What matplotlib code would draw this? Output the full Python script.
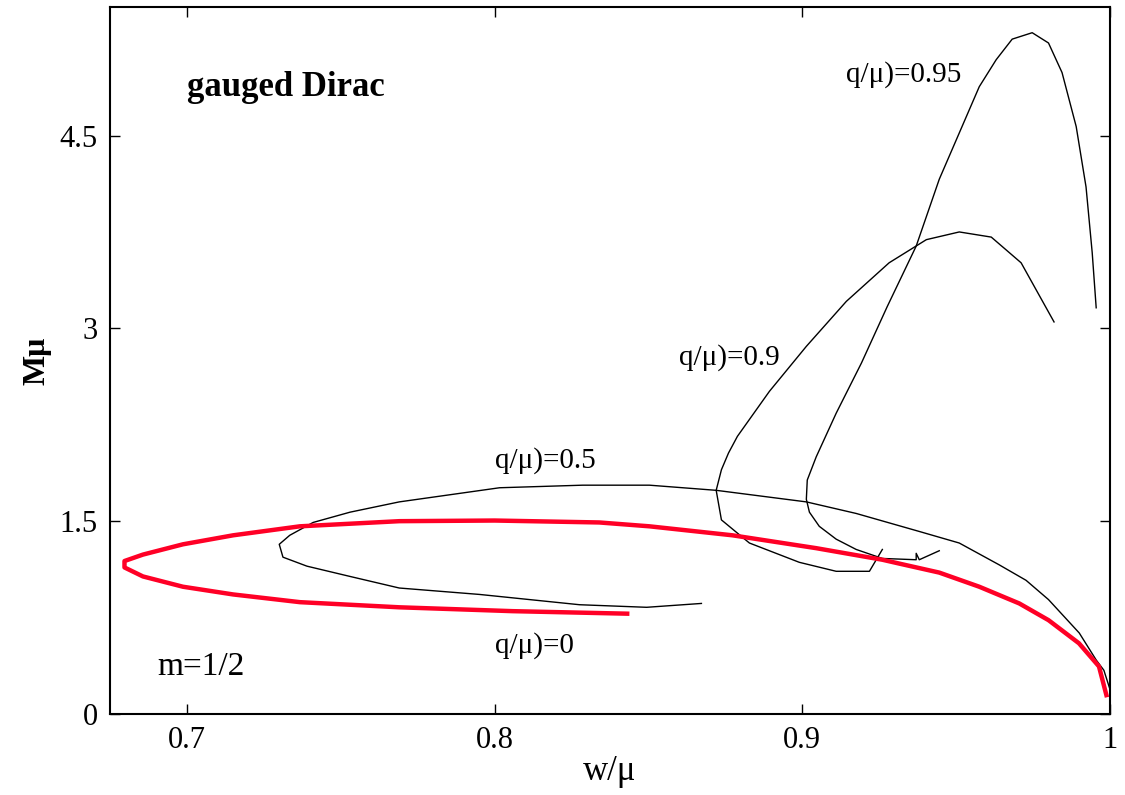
import matplotlib
matplotlib.use("Agg")
import matplotlib.pyplot as plt

plt.rcParams['font.family'] = ['Liberation Serif', 'DejaVu Serif']

# q/mu = 0 (red)
q0_w = [0.999, 0.9964, 0.9899, 0.980, 0.9705, 0.9575, 0.9445, 0.9315, 0.926, 0.9045,
        0.8773, 0.8503, 0.834, 0.80, 0.769, 0.7367, 0.715, 0.6987, 0.6857, 0.6797,
        0.6797, 0.6857, 0.6987, 0.715, 0.7367, 0.769, 0.8058, 0.8438]
q0_M = [0.13, 0.37, 0.55, 0.73, 0.86, 0.99, 1.10, 1.17, 1.20, 1.29,
        1.39, 1.46, 1.49, 1.505, 1.50, 1.46, 1.39, 1.32, 1.24, 1.19,
        1.14, 1.07, 0.99, 0.93, 0.87, 0.83, 0.80, 0.78]

# q/mu = 0.5
q05_w = [1.0, 0.998, 0.9955, 0.99, 0.980, 0.9727, 0.964, 0.951, 0.938, 0.9175,
         0.9013, 0.872, 0.8503, 0.8286, 0.8016, 0.769, 0.753, 0.741, 0.7334, 0.730,
         0.7312, 0.739, 0.753, 0.769, 0.7951, 0.8276, 0.8494, 0.8672]
q05_M = [0.19, 0.34, 0.42, 0.63, 0.89, 1.04, 1.16, 1.33, 1.42, 1.56,
         1.65, 1.74, 1.78, 1.78, 1.76, 1.65, 1.57, 1.49, 1.39, 1.32,
         1.22, 1.15, 1.07, 0.98, 0.93, 0.85, 0.83, 0.86]

# q/mu = 0.9
q09_w = [0.9818, 0.9711, 0.9614, 0.951, 0.9403, 0.9282, 0.9143, 0.9013, 0.8893, 0.8789,
         0.8760, 0.8737, 0.872, 0.8737, 0.8828, 0.899, 0.911, 0.9218, 0.926]
q09_M = [3.05, 3.51, 3.71, 3.75, 3.69, 3.51, 3.21, 2.86, 2.51, 2.16,
         2.03, 1.90, 1.74, 1.51, 1.33, 1.18, 1.11, 1.11, 1.28]

# q/mu = 0.95
q095_w = [0.9955, 0.9942, 0.9922, 0.989, 0.9844, 0.980, 0.9747, 0.9682, 0.963, 0.9575,
          0.951, 0.9445, 0.937, 0.9276, 0.9192, 0.911, 0.9045, 0.9016, 0.9013, 0.9023,
          0.9055, 0.911, 0.9175, 0.926, 0.937, 0.937, 0.938, 0.9445]
q095_M = [3.16, 3.59, 4.10, 4.57, 4.99, 5.22, 5.30, 5.25, 5.09, 4.88,
          4.52, 4.16, 3.64, 3.17, 2.73, 2.34, 2.00, 1.82, 1.67, 1.57,
          1.46, 1.36, 1.28, 1.21, 1.20, 1.25, 1.20, 1.27]

fig = plt.figure(figsize=(11.25, 7.95), dpi=100)
ax = fig.add_axes([0.0978, 0.1019, 0.8889, 0.8893])

ax.plot(q05_w, q05_M, color='black', lw=1.0)
ax.plot(q09_w, q09_M, color='black', lw=1.0)
ax.plot(q095_w, q095_M, color='black', lw=1.0)
ax.plot(q0_w, q0_M, color='#ff0026', lw=3.2, solid_capstyle='butt')

ax.set_xlim(0.675, 1.0)
ax.set_ylim(0, 5.5)
ax.set_xticks([0.7, 0.8, 0.9, 1.0])
ax.set_xticklabels(['0.7', '0.8', '0.9', '1'])
ax.set_yticks([0, 1.5, 3, 4.5])
ax.set_yticklabels(['0', '1.5', '3', '4.5'])
ax.tick_params(direction='in', length=7, width=1.0, labelsize=22, pad=9,
               top=True, right=True)
for s in ax.spines.values():
    s.set_linewidth(1.5)

ax.set_xlabel('w/μ', fontsize=25, labelpad=0)
ax.set_ylabel('Mμ', fontsize=23, fontweight='bold', labelpad=6)

ax.text(0.7, 4.805, 'gauged Dirac', fontsize=25, fontweight='bold', va='baseline')
ax.text(0.9143, 4.92, 'q/μ)=0.95', fontsize=21, va='baseline')
ax.text(0.860, 2.72, 'q/μ)=0.9', fontsize=21, va='baseline')
ax.text(0.800, 1.92, 'q/μ)=0.5', fontsize=21, va='baseline')
ax.text(0.800, 0.475, 'q/μ)=0', fontsize=21, va='baseline')
ax.text(0.6903, 0.30, 'm=1/2', fontsize=24, va='baseline')

fig.savefig('out.png', dpi=100)
